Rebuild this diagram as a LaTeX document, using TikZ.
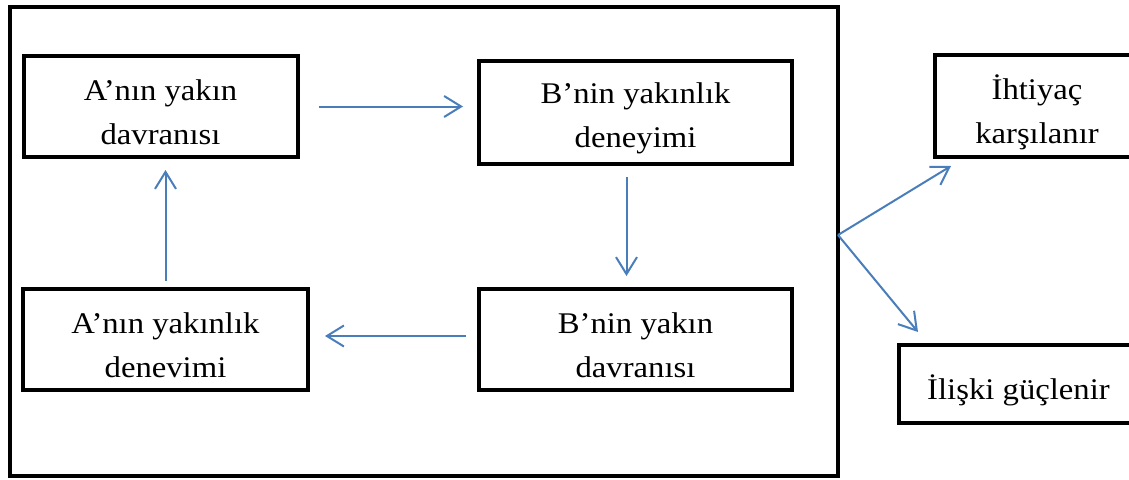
\documentclass[tikz,border=0pt]{standalone}
\usepackage{fontspec}
\setmainfont{Liberation Serif}[FakeStretch=1.09]
\usetikzlibrary{arrows.meta}
\definecolor{arrblue}{HTML}{4A7EBB}
\tikzset{
  box/.style={draw=black, line width=4pt, rectangle, inner sep=0pt},
  txt/.style={label={[align=center, inner sep=0pt, yshift=-6pt, font=\fontsize{30}{44}\selectfont]center:{#1}}},
  arr/.style={draw=arrblue, line width=2pt, -{Straight Barb[length=17pt,width=21pt,line width=2pt]}},
  framebox/.style={draw=black, line width=4pt}
}
\begin{document}
\begin{tikzpicture}[x=1pt,y=-1pt]
\useasboundingbox (0,0) rectangle (1129,479);
\fill[white] (0,0) rectangle (1129,479);
\draw[framebox] (10,7) rectangle (838,476);
\node[box, minimum width=274pt, minimum height=101pt, txt={A’nın yakın\\davranısı}] (a1) at (160.5,106.5) {};
\node[box, minimum width=313pt, minimum height=103pt, txt={B’nin yakınlık\\deneyimi}] (b1) at (635.5,112.5) {};
\node[box, minimum width=313pt, minimum height=101pt, txt={B’nin yakın\\davranısı}] (b2) at (635.5,339.5) {};
\node[box, minimum width=285pt, minimum height=101pt, txt={A’nın yakınlık\\denevimi}] (a2) at (165.5,339.5) {};
\node[box, minimum width=204pt, minimum height=102pt, txt={İhtiyaç\\karşılanır}] (ih) at (1037,106) {};
\node[box, minimum width=239pt, minimum height=78pt, txt={İlişki güçlenir}] (il) at (1018.5,384) {};
\coordinate (split) at (838,235);
\draw[arr, shorten <=19pt, shorten >=14pt] (a1.east) -- (a1.east -| b1.west);
\draw[arr, shorten <=11pt, shorten >=11pt] ([xshift=-9pt]b1.south) -- ([xshift=-9pt]b1.south |- b2.north);
\draw[arr, shorten <=11pt, shorten >=15pt] (b2.west |- 0,336) -- (a2.east |- 0,336);
\draw[arr, shorten <=6pt, shorten >=11pt] (a2.north) -- (a2.north |- a1.south);
\draw[arr] (split) -- ([shift={(18pt,-7pt)}]ih.south west);
\draw[arr] (split) -- ([shift={(21pt,11pt)}]il.north west);
\end{tikzpicture}
\end{document}
